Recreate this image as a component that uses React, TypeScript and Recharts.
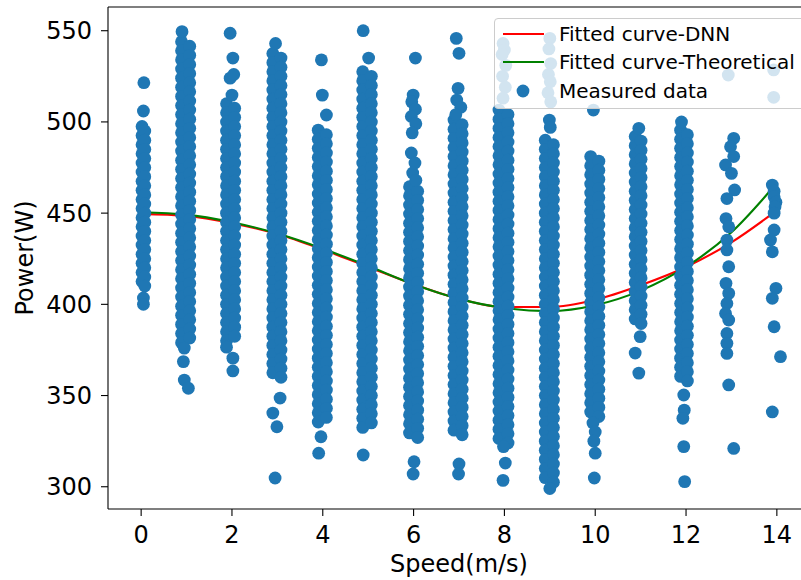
import React from 'react';
import { ComposedChart, Scatter, Line, XAxis, YAxis, ReferenceLine } from 'recharts';

// Measured data. Dense core of each speed column: power readings (W) at a recorded speed (m/s).
const core0a = [497.5,492.5,487.5,482.5,477.5,472.5,467.5,462.5,457.5,452.5,447.5,442.5,437.5,432.5,427.5,422.5,417.5,412.5];
const core0b = [495,490,485,480,475,470,465,460,455,450,445,440,435,430,425,420,415,410];
const core1a = [544,539,534,529,524,519,514,509,504,499,494,489,484,479,474,469,464,459,454,449,444,439,434,429,424,419,414,409,404,399,394,389,384,379];
const core1b = [541.5,536.5,531.5,526.5,521.5,516.5,511.5,506.5,501.5,496.5,491.5,486.5,481.5,476.5,471.5,466.5,461.5,456.5,451.5,446.5,441.5,436.5,431.5,426.5,421.5,416.5,411.5,406.5,401.5,396.5,391.5,386.5,381.5];
const core2a = [510,505,500,495,490,485,480,475,470,465,460,455,450,445,440,435,430,425,420,415,410,405,400,395,390,385,380];
const core2b = [507.5,502.5,497.5,492.5,487.5,482.5,477.5,472.5,467.5,462.5,457.5,452.5,447.5,442.5,437.5,432.5,427.5,422.5,417.5,412.5,407.5,402.5,397.5,392.5,387.5,382.5];
const core3a = [537.5,532.5,527.5,522.5,517.5,512.5,507.5,502.5,497.5,492.5,487.5,482.5,477.5,472.5,467.5,462.5,457.5,452.5,447.5,442.5,437.5,432.5,427.5,422.5,417.5,412.5,407.5,402.5,397.5,392.5,387.5,382.5,377.5,372.5,367.5,362.5];
const core3b = [535,530,525,520,515,510,505,500,495,490,485,480,475,470,465,460,455,450,445,440,435,430,425,420,415,410,405,400,395,390,385,380,375,370,365,360];
const core4a = [495.5,490.5,485.5,480.5,475.5,470.5,465.5,460.5,455.5,450.5,445.5,440.5,435.5,430.5,425.5,420.5,415.5,410.5,405.5,400.5,395.5,390.5,385.5,380.5,375.5,370.5,365.5,360.5,355.5,350.5,345.5,340.5,335.5];
const core4b = [493,488,483,478,473,468,463,458,453,448,443,438,433,428,423,418,413,408,403,398,393,388,383,378,373,368,363,358,353,348,343,338];
const core5a = [527.5,522.5,517.5,512.5,507.5,502.5,497.5,492.5,487.5,482.5,477.5,472.5,467.5,462.5,457.5,452.5,447.5,442.5,437.5,432.5,427.5,422.5,417.5,412.5,407.5,402.5,397.5,392.5,387.5,382.5,377.5,372.5,367.5,362.5,357.5,352.5,347.5,342.5,337.5,332.5];
const core5b = [525,520,515,510,505,500,495,490,485,480,475,470,465,460,455,450,445,440,435,430,425,420,415,410,405,400,395,390,385,380,375,370,365,360,355,350,345,340,335];
const core6a = [464.5,459.5,454.5,449.5,444.5,439.5,434.5,429.5,424.5,419.5,414.5,409.5,404.5,399.5,394.5,389.5,384.5,379.5,374.5,369.5,364.5,359.5,354.5,349.5,344.5,339.5,334.5,329.5];
const core6b = [462,457,452,447,442,437,432,427,422,417,412,407,402,397,392,387,382,377,372,367,362,357,352,347,342,337,332,327];
const core7a = [501,496,491,486,481,476,471,466,461,456,451,446,441,436,431,426,421,416,411,406,401,396,391,386,381,376,371,366,361,356,351,346,341,336,331];
const core7b = [498.5,493.5,488.5,483.5,478.5,473.5,468.5,463.5,458.5,453.5,448.5,443.5,438.5,433.5,428.5,423.5,418.5,413.5,408.5,403.5,398.5,393.5,388.5,383.5,378.5,373.5,368.5,363.5,358.5,353.5,348.5,343.5,338.5,333.5,328.5];
const core8a = [506.5,501.5,496.5,491.5,486.5,481.5,476.5,471.5,466.5,461.5,456.5,451.5,446.5,441.5,436.5,431.5,426.5,421.5,416.5,411.5,406.5,401.5,396.5,391.5,386.5,381.5,376.5,371.5,366.5,361.5,356.5,351.5,346.5,341.5,336.5,331.5,326.5];
const core8b = [504,499,494,489,484,479,474,469,464,459,454,449,444,439,434,429,424,419,414,409,404,399,394,389,384,379,374,369,364,359,354,349,344,339,334,329,324];
const core9a = [490,485,480,475,470,465,460,455,450,445,440,435,430,425,420,415,410,405,400,395,390,385,380,375,370,365,360,355,350,345,340,335,330,325,320,315,310,305];
const core9b = [487.5,482.5,477.5,472.5,467.5,462.5,457.5,452.5,447.5,442.5,437.5,432.5,427.5,422.5,417.5,412.5,407.5,402.5,397.5,392.5,387.5,382.5,377.5,372.5,367.5,362.5,357.5,352.5,347.5,342.5,337.5,332.5,327.5,322.5,317.5,312.5,307.5,302.5];
const core10a = [481,476,471,466,461,456,451,446,441,436,431,426,421,416,411,406,401,396,391,386,381,376,371,366,361,356,351,346,341];
const core10b = [478.5,473.5,468.5,463.5,458.5,453.5,448.5,443.5,438.5,433.5,428.5,423.5,418.5,413.5,408.5,403.5,398.5,393.5,388.5,383.5,378.5,373.5,368.5,363.5,358.5,353.5,348.5,343.5,338.5];
const core11a = [492,487,482,477,472,467,462,457,452,447,442,437,432,427,422,417,412,407,402,397,392];
const core11b = [489.5,484.5,479.5,474.5,469.5,464.5,459.5,454.5,449.5,444.5,439.5,434.5,429.5,424.5,419.5,414.5,409.5,404.5,399.5,394.5,389.5];
const core12a = [495.5,490.5,485.5,480.5,475.5,470.5,465.5,460.5,455.5,450.5,445.5,440.5,435.5,430.5,425.5,420.5,415.5,410.5,405.5,400.5,395.5,390.5,385.5,380.5,375.5,370.5,365.5,360.5];
const core12b = [493,488,483,478,473,468,463,458,453,448,443,438,433,428,423,418,413,408,403,398,393,388,383,378,373,368,363,358];

const coreGroups: [number, number[]][] = [
  [0.02, core0a], [0.08, core0b],
  [0.89, core1a], [1.07, core1b],
  [1.88, core2a], [2.06, core2b],
  [2.9, core3a], [3.08, core3b],
  [3.9, core4a], [4.08, core4b],
  [4.88, core5a], [5.07, core5b],
  [5.91, core6a], [6.09, core6b],
  [6.89, core7a], [7.07, core7b],
  [7.88, core8a], [8.08, core8b],
  [8.9, core9a], [9.08, core9b],
  [9.9, core10a], [10.08, core10b],
  [10.88, core11a], [11.01, core11b],
  [11.88, core12a], [12.03, core12b],
];

// Scattered readings outside the dense cores: [speed (m/s), power (W)]
const sparse0: [number, number][] = [[0.06,521.5],[0.05,506],[0.05,403.5],[0.05,400]];
const sparse1: [number, number][] = [[0.9,549.5],[0.95,376],[0.93,368.6],[0.95,358.5],[1.04,354]];
const sparse2: [number, number][] = [[1.96,548.6],[2.02,535],[1.96,524],[2.04,526],[2.0,514.7],[1.88,376.5],[2.02,370.5],[2.02,363.5]];
const sparse3: [number, number][] = [[2.96,543],[3.06,348.6],[2.9,340.4],[2.99,332.9],[2.95,304.8]];
const sparse4: [number, number][] = [[3.97,534],[3.99,514.7],[4.08,503.8],[3.96,327.4],[3.91,318.4]];
const sparse5: [number, number][] = [[4.89,550],[5.01,535],[4.89,317.4]];
const sparse6: [number, number][] = [[6.04,535],[5.99,514.7],[5.96,511],[6.04,507],[5.95,503],[6.05,499],[5.97,494],[5.95,483],[6.03,477.5],[5.98,472],[6.05,468],[6.01,313.7],[5.99,307]];
const sparse7: [number, number][] = [[6.94,545.8],[7.0,537.6],[6.98,518.4],[6.95,512],[7.04,508],[6.93,504],[7.0,312.5],[6.99,307]];
const sparse8: [number, number][] = [[7.97,543],[8.0,539.4],[7.95,537],[8.03,531],[7.96,525],[8.02,519],[7.97,513],[7.98,322],[8.02,313],[7.97,303.5]];
const sparse9: [number, number][] = [[9.0,545.8],[8.98,540],[9.02,532],[8.97,526],[9.01,522],[8.96,516],[9.02,511],[8.99,501],[9.01,497],[9.0,299]];
const sparse10: [number, number][] = [[9.96,506.5],[9.95,335],[10.0,330],[9.97,325],[10.0,318.4],[9.98,304.8]];
const sparse11: [number, number][] = [[10.96,496.5],[10.99,382.3],[10.88,373.3],[10.96,362.3]];
const sparse12: [number, number][] = [[11.9,500],[11.95,350.3],[11.96,342],[11.93,337.5],[11.95,322],[11.97,302.8]];
const sparse13: [number, number][] = [[12.93,525.7],[13.05,491],[12.98,486.4],[13.05,481],[12.87,476.4],[13.0,471.8],[13.07,462.7],[12.9,458],[12.88,447],[12.94,442.5],[12.9,435.2],[12.9,429.8],[12.94,420.6],[12.88,411.5],[12.94,406],[12.9,400.5],[12.87,395],[12.94,391.4],[12.9,384],[12.9,378.6],[12.9,373.1],[12.94,355.8],[13.05,321]];
const sparse14: [number, number][] = [[13.93,528.5],[13.93,513.5],[13.9,465.4],[13.94,462],[13.94,459],[13.98,456],[13.96,453.5],[13.94,450],[13.94,440.8],[13.86,435.3],[13.9,428.8],[13.98,408.8],[13.9,403.3],[13.94,387.7],[14.08,371.3],[13.9,341]];

// Fitted curves
const curveSpeeds = [0, 1, 2, 3, 4, 5, 6, 7, 8, 9, 10, 11, 12, 13, 14];
const curveDNN = [449.6, 448.5, 444.5, 438.5, 430, 420.5, 411, 403, 398.5, 398.5, 402.5, 410.5, 420.5, 434, 451.5];
const curveTheoretical = [450.5, 449.2, 445, 438.8, 430.5, 421, 411, 403, 398, 396.3, 399.5, 407.5, 420.5, 439.5, 466.5];

const xTicks = [0, 2, 4, 6, 8, 10, 12, 14];
const yTicks = [300, 350, 400, 450, 500, 550];

const legendLabels = ['Fitted curve-DNN', 'Fitted curve-Theoretical', 'Measured data'];

const BLUE = '#1f77b4';
const RED = '#ff0000';
const GREEN = '#008000';
const FONT = '"DejaVu Sans", sans-serif';

const measured = [
  ...coreGroups.flatMap(([speed, powers]) => powers.map((p) => ({ x: speed, y: p }))),
  ...[sparse0, sparse1, sparse2, sparse3, sparse4, sparse5, sparse6, sparse7, sparse8, sparse9, sparse10, sparse11, sparse12, sparse13, sparse14]
    .flat()
    .map(([x, y]) => ({ x, y })),
];

const curveData = curveSpeeds.map((s, i) => ({ x: s, dnn: curveDNN[i], theo: curveTheoretical[i] }));

const Dot = (props: any) => {
  const { cx, cy } = props;
  if (cx == null || cy == null) return null;
  return <circle cx={cx} cy={cy} r={6.4} fill={BLUE} />;
};

const tickStyle = { fill: '#000', fontSize: 24, fontFamily: FONT };

function LegendBox() {
  const rows = [
    { label: legendLabels[0], kind: 'line', color: RED },
    { label: legendLabels[1], kind: 'line', color: GREEN },
    { label: legendLabels[2], kind: 'dot', color: BLUE },
  ];
  return (
    <div
      style={{
        position: 'absolute',
        left: 494,
        top: 18,
        width: 340,
        height: 91,
        boxSizing: 'border-box',
        border: '1px solid #cccccc',
        borderRadius: 4,
        background: 'rgba(255,255,255,0.8)',
        fontFamily: FONT,
        fontSize: 20,
        color: '#000',
      }}
    >
      {rows.map((r, i) => (
        <div
          key={r.label}
          style={{
            position: 'absolute',
            left: 7,
            top: [1, 29, 58][i],
            height: 28,
            display: 'flex',
            alignItems: 'center',
            whiteSpace: 'nowrap',
          }}
        >
          <svg width={42} height={28} style={{ display: 'block' }}>
            {r.kind === 'line' ? (
              <line x1={1} x2={42} y1={14} y2={14} stroke={r.color} strokeWidth={2.1} />
            ) : (
              <circle cx={21} cy={14} r={6.4} fill={r.color} />
            )}
          </svg>
          <span style={{ marginLeft: 15, lineHeight: '28px' }}>{r.label}</span>
        </div>
      ))}
    </div>
  );
}

export default function App() {
  return (
    <div style={{ position: 'absolute', left: 0, top: 0, width: 801, height: 580, overflow: 'hidden', background: '#fff' }}>
      <ComposedChart width={830} height={580} margin={{ top: 7, right: 20, bottom: 0, left: 0 }}>
        <XAxis
          type="number"
          dataKey="x"
          domain={[-0.73, 14.73]}
          ticks={xTicks}
          allowDataOverflow
          height={71}
          tick={tickStyle}
          tickSize={7}
          tickMargin={10}
          axisLine={{ stroke: '#000', strokeWidth: 1.1 }}
          tickLine={{ stroke: '#000', strokeWidth: 1.1 }}
          label={{ value: 'Speed(m/s)', position: 'insideBottom', offset: 8, style: { fill: '#000', fontSize: 24, fontFamily: FONT } }}
        />
        <YAxis
          type="number"
          dataKey="y"
          domain={[287.8, 563]}
          ticks={yTicks}
          allowDataOverflow
          width={108}
          tick={tickStyle}
          tickSize={7}
          tickMargin={9}
          axisLine={{ stroke: '#000', strokeWidth: 1.1 }}
          tickLine={{ stroke: '#000', strokeWidth: 1.1 }}
          label={{ value: 'Power(W)', angle: -90, position: 'insideLeft', offset: 24, style: { fill: '#000', fontSize: 24, fontFamily: FONT, textAnchor: 'middle' } }}
        />
        <ReferenceLine y={563} stroke="#000" strokeWidth={1.1} />
        <Scatter name="Measured data" data={measured} dataKey="y" shape={Dot} isAnimationActive={false} />
        <Line name="Fitted curve-DNN" data={curveData} dataKey="dnn" type="monotone" stroke={RED} strokeWidth={2.1} dot={false} activeDot={false} isAnimationActive={false} />
        <Line name="Fitted curve-Theoretical" data={curveData} dataKey="theo" type="monotone" stroke={GREEN} strokeWidth={2.1} dot={false} activeDot={false} isAnimationActive={false} />
      </ComposedChart>
      <LegendBox />
    </div>
  );
}
